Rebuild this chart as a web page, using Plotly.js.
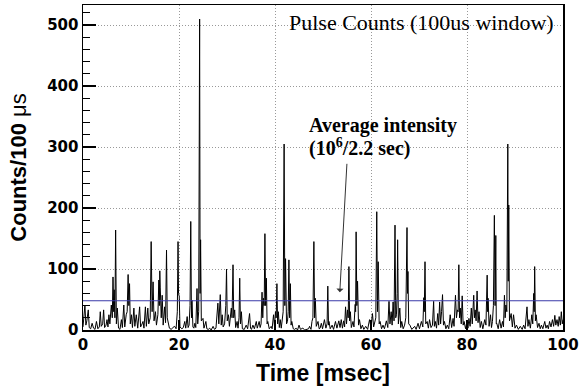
<!DOCTYPE html>
<html>
<head>
<meta charset="utf-8">
<script src="https://cdn.plot.ly/plotly-3.0.1.min.js"></script>
<style>html,body{margin:0;padding:0;background:#fff;}#chart{width:582px;height:386px;}</style>
</head>
<body>
<div id="chart"></div>
<script>
// Time of each sample (msec)
const timeMs = [
0.0,0.2,0.4,0.6,0.8,1.1,1.3,1.6,1.9,2.2,2.5,2.8,3.1,3.4,3.6,3.8,4.1,4.3,4.5,4.8,
5.0,5.2,5.4,5.6,5.9,6.1,6.25,6.4,6.5,6.65,6.8,6.95,7.15,7.4,7.7,8.0,8.2,8.5,8.7,9.0,
9.2,9.4,9.55,9.7,9.85,10.1,10.3,10.6,10.8,11.1,11.4,11.8,12.0,12.2,12.5,12.7,13.0,13.2,13.5,13.7,
14.0,14.2,14.4,14.6,14.8,15.1,15.3,15.6,15.8,15.9,16.0,16.1,16.3,16.5,16.7,17.0,17.2,17.4,17.55,17.7,
18.0,18.4,18.7,19.1,19.4,19.65,19.8,19.9,20.05,20.2,20.6,20.9,21.2,21.4,21.7,21.9,22.1,22.3,22.45,22.6,
22.7,22.9,23.1,23.3,23.5,23.75,23.9,24.1,24.3,24.4,24.5,24.65,25.0,25.2,25.6,25.8,26.1,26.4,26.7,27.1,
27.4,27.7,28.1,28.3,28.6,28.8,29.0,29.2,29.5,29.75,29.9,30.05,30.3,30.5,30.9,31.05,31.25,31.4,31.6,31.8,
32.1,32.3,32.5,32.65,32.8,33.0,33.2,33.6,34.0,34.3,34.7,34.9,35.1,35.4,35.7,36.1,36.3,36.7,36.9,37.1,
37.3,37.45,37.6,37.75,37.9,38.05,38.2,38.35,38.5,38.8,39.2,39.4,39.7,39.9,40.1,40.25,40.4,40.55,40.7,40.9,
41.1,41.3,41.5,41.7,41.9,42.05,42.2,42.4,42.6,42.75,42.9,43.05,43.2,43.35,43.5,43.8,44.1,44.4,44.7,45.0,
45.3,45.8,46.2,46.6,47.0,47.2,47.5,47.7,47.9,48.1,48.25,48.4,48.6,48.96,49.2,49.4,49.65,49.9,50.3,50.6,
50.85,51.0,51.15,51.25,51.5,51.9,52.2,52.6,52.9,53.3,53.55,53.8,54.05,54.3,54.5,54.7,54.9,55.1,55.25,55.4,
55.55,55.7,55.9,56.25,56.45,56.7,56.8,56.9,57.05,57.2,57.4,57.6,57.9,58.2,58.5,58.9,59.3,59.7,60.0,60.3,
60.55,60.8,61.0,61.2,61.35,61.5,61.7,61.9,62.2,62.5,62.8,63.2,63.5,63.75,63.95,64.2,64.4,64.6,64.8,65.0,
65.15,65.3,65.45,65.55,65.7,66.0,66.2,66.4,66.7,67.0,67.25,67.5,67.6,67.7,67.85,68.1,68.5,68.8,69.1,69.4,
69.8,70.1,70.5,70.8,71.0,71.1,71.25,71.4,71.7,71.95,72.2,72.5,72.8,73.05,73.2,73.4,73.65,73.9,74.1,74.3,
74.5,74.7,74.9,75.1,75.3,75.6,75.9,76.2,76.5,76.8,77.1,77.3,77.6,77.8,78.0,78.15,78.3,78.45,78.6,78.8,
79.0,79.2,79.4,79.7,80.0,80.2,80.4,80.65,80.9,81.1,81.4,81.55,81.7,81.9,82.1,82.3,82.5,82.75,83.0,83.3,
83.7,83.95,84.2,84.3,84.4,84.6,84.9,85.1,85.3,85.5,85.7,85.85,86.0,86.1,86.2,86.5,86.8,87.1,87.4,87.6,
87.8,87.95,88.1,88.3,88.5,88.6,88.7,88.85,89.2,89.45,89.7,90.0,90.3,90.7,91.1,91.5,91.8,92.1,92.5,92.7,
92.9,93.2,93.5,93.7,93.9,94.0,94.1,94.25,94.4,94.7,95.0,95.25,95.5,95.8,96.2,96.45,96.7,96.95,97.2,97.5,
97.8,98.05,98.3,98.5,98.75,99.0,99.2,99.45,99.65,99.85,100.0
];
// Pulse counts per 100 us window
const counts = [
5,20,41,8,15,33,4,2,11,3,1,14,2,5,30,6,10,33,4,8,
17,5,25,10,41,20,87,30,66,20,164,10,36,3,1,17,4,41,5,25,
30,91,40,76,10,25,4,36,6,25,3,38,5,8,14,3,38,6,36,10,
20,145,30,79,15,30,8,25,82,40,97,69,20,57,8,38,12,131,20,14,
3,1,4,6,2,30,145,60,55,5,2,4,14,3,22,4,8,40,178,20,
49,5,3,11,4,68,10,30,510,60,148,15,19,3,14,2,1,3,0,6,
1,3,44,10,58,8,25,5,10,40,100,15,25,6,36,20,107,20,33,4,
14,3,20,85,10,30,2,1,8,2,27,3,1,8,2,14,3,14,4,10,
62,20,52,40,158,40,85,10,14,2,6,2,25,5,30,20,76,10,30,4,
17,3,14,30,305,40,117,10,14,30,115,20,76,8,14,2,1,3,0,8,
1,3,0,1,2,6,1,14,20,145,20,52,6,14,2,3,11,2,17,3,
10,72,8,14,2,8,1,14,3,15,4,17,3,15,5,38,10,33,20,104,
15,30,4,14,5,42,30,161,40,80,8,17,2,8,1,6,1,17,4,27,
5,17,20,194,30,112,10,14,2,8,2,15,4,47,10,30,8,46,15,172,
20,25,60,148,10,36,4,14,2,8,20,168,60,96,10,8,1,3,6,1,
11,2,14,5,53,30,112,10,14,3,17,4,8,47,6,14,3,27,8,46,
10,30,58,8,14,2,8,2,25,4,19,6,57,20,33,30,107,20,36,10,
56,8,14,2,14,3,19,6,36,10,57,20,33,15,64,12,30,4,14,2,
17,8,90,30,52,6,25,4,14,40,188,40,155,10,11,2,17,3,14,5,
57,20,41,30,305,80,205,15,27,5,25,3,8,1,6,1,8,2,38,6,
17,3,25,10,60,30,104,15,25,4,11,2,8,2,14,3,8,2,14,5,
17,6,24,8,17,6,22,8,30,10,17
];
// Average intensity level (counts / 100 us)
const averageRange = [0, 100];
const averageLevel = [48, 48];
const yTickVals = [0, 100, 200, 300, 400, 500];
const xTickVals = [0, 20, 40, 60, 80, 100];

const traces = [
  {x: timeMs, y: counts, type: 'scatter', mode: 'lines',
   line: {color: '#000000', width: 1}, hoverinfo: 'x+y'},
  {x: averageRange, y: averageLevel, type: 'scatter', mode: 'lines',
   line: {color: '#3a3aa8', width: 1.2}, hoverinfo: 'y'}
];

const layout = {
  width: 582, height: 386,
  margin: {l: 83, r: 19, t: 5, b: 56},
  paper_bgcolor: '#fff', plot_bgcolor: '#fff',
  showlegend: false,
  xaxis: {
    range: [0, 100], tickvals: xTickVals, ticktext: xTickVals.map(String),
    ticks: 'inside', ticklen: 10, tickwidth: 1.2, tickcolor: '#000',
    showline: true, linecolor: '#000', linewidth: 1.5, mirror: true,
    showgrid: true, gridcolor: '#999', griddash: '1px,2px', gridwidth: 1,
    zeroline: false,
    tickfont: {family: '"DejaVu Sans", sans-serif', size: 15, color: '#000', weight: 'bold'},
    title: {text: '<b>Time [msec]</b>', font: {family: '"Liberation Sans", Arial, sans-serif', size: 23, color: '#000'}, standoff: 12}
  },
  yaxis: {
    range: [0, 533], tickvals: yTickVals, ticktext: yTickVals.map(String),
    ticks: 'inside', ticklen: 13, tickwidth: 1.5, tickcolor: '#000',
    minor: {dtick: 20, tick0: 0, ticks: 'inside', ticklen: 7, tickwidth: 1, tickcolor: '#000', showgrid: false},
    showline: true, linecolor: '#000', linewidth: 1.5, mirror: true,
    showgrid: true, gridcolor: '#999', griddash: '1px,2px', gridwidth: 1,
    zeroline: false,
    tickfont: {family: '"DejaVu Sans", sans-serif', size: 15, color: '#000', weight: 'bold'},
    title: {text: '<b>Counts/100 </b>μs', font: {family: '"Liberation Sans", Arial, sans-serif', size: 22, color: '#000'}, standoff: 14}
  },
  annotations: [
    {xref: 'paper', yref: 'paper', x: 0.985, y: 0.945, xanchor: 'right', yanchor: 'middle',
     text: 'Pulse Counts (100us window)', showarrow: false,
     font: {family: '"Liberation Serif", "Times New Roman", serif', size: 22, color: '#000'}},
    {xref: 'x', yref: 'y', x: 46.6, y: 335, xanchor: 'left', yanchor: 'middle',
     text: '<b>Average intensity</b>', showarrow: false, align: 'left',
     font: {family: '"Liberation Serif", "Times New Roman", serif', size: 20, color: '#000'}},
    {xref: 'x', yref: 'y', x: 46.6, y: 300, xanchor: 'left', yanchor: 'middle',
     text: '<b>(10<sup>6</sup>/2.2 sec)</b>', showarrow: false, align: 'left',
     font: {family: '"Liberation Serif", "Times New Roman", serif', size: 20, color: '#000'}},
    {xref: 'x', yref: 'y', x: 53.5, y: 62, axref: 'x', ayref: 'y', ax: 55.0, ay: 275,
     text: '', showarrow: true, arrowhead: 1, arrowsize: 1.2, arrowwidth: 1, arrowcolor: '#333'}
  ]
};

Plotly.newPlot('chart', traces, layout, {staticPlot: true, displayModeBar: false});
</script>
</body>
</html>
